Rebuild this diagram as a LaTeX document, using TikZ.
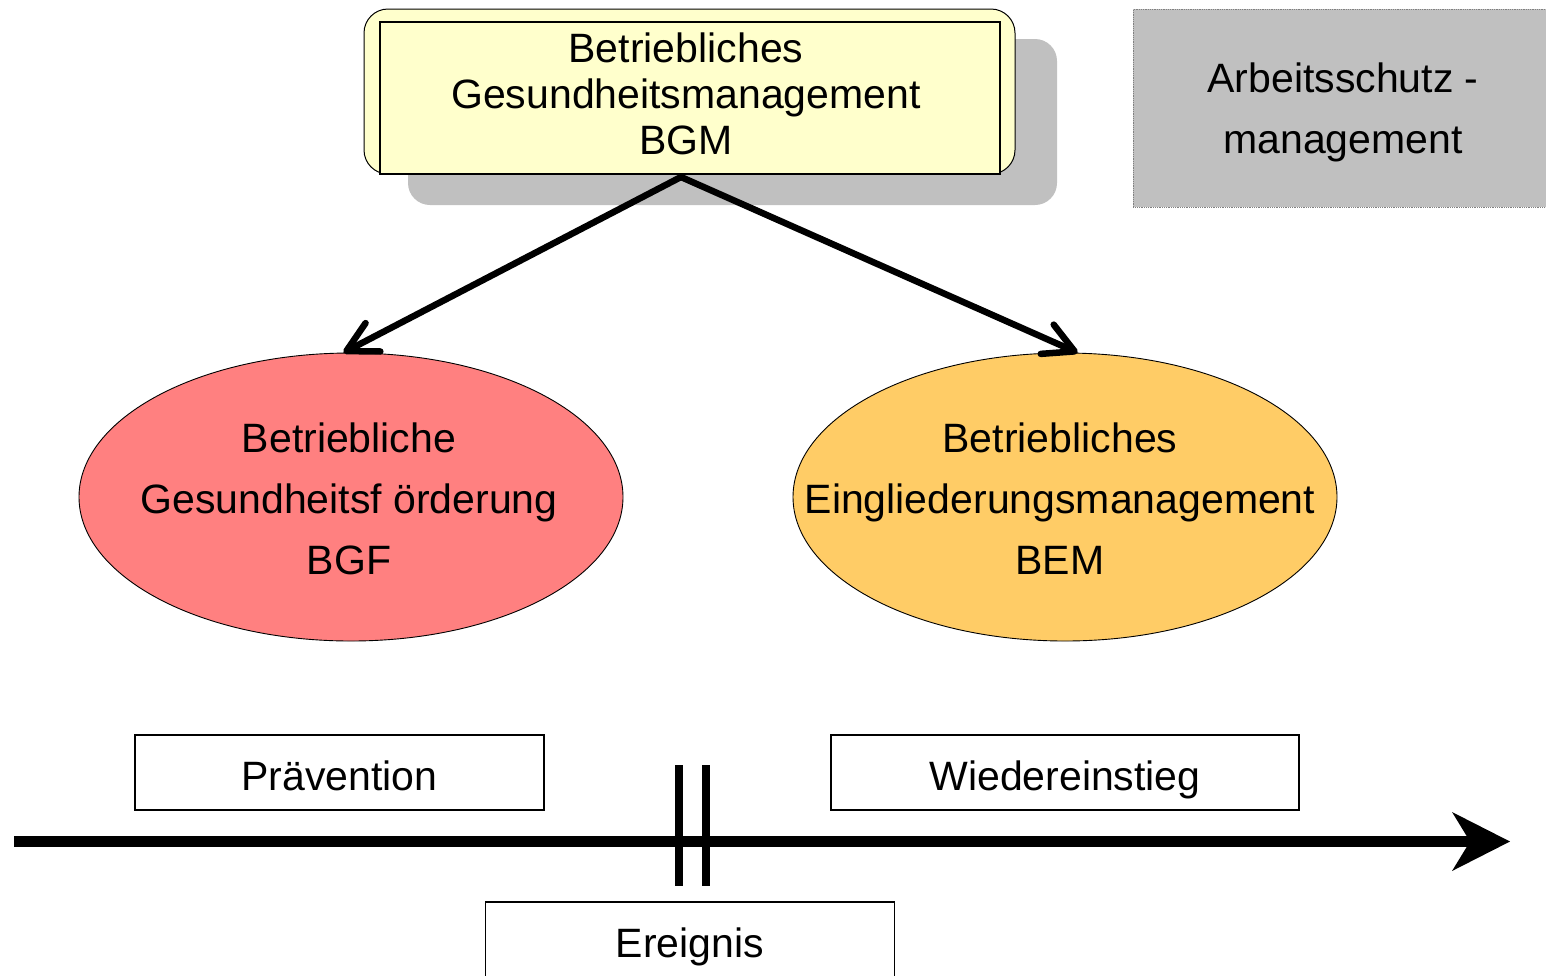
\documentclass[tikz,border=0pt]{standalone}
\usepackage{fontspec}
\setmainfont{Liberation Sans}
\usetikzlibrary{arrows.meta,shapes.geometric}
\definecolor{bgmyellow}{HTML}{FFFFCC}
\definecolor{bgfred}{HTML}{FF8080}
\definecolor{bemorange}{HTML}{FFCC66}
\definecolor{shadowgray}{HTML}{C0C0C0}
\definecolor{dotgray}{HTML}{808080}
\begin{document}
\begin{tikzpicture}[x=1pt,y=-1pt,
  bigtext/.style={font=\fontsize{41}{61}\selectfont, align=center, inner sep=0pt},
  ell/.style={ellipse, draw=black, line width=0.9pt, minimum width=544pt, minimum height=288pt, inner sep=0pt},
  phase/.style={draw=black, line width=1.5pt, minimum width=409pt, minimum height=75pt, inner sep=0pt,
    text height=35pt, text depth=0pt, font=\fontsize{41}{49}\selectfont},
  link/.style={line width=6.5pt, line cap=round, -{Straight Barb[length=30pt,width=32pt,round]}},
  bar/.style={line width=8pt}
]
\useasboundingbox (0,0) rectangle (1546,975);
\fill[white] (0,0) rectangle (1546,975);

% BGM box with shadow
\fill[shadowgray, rounded corners=22pt] (408,39) rectangle (1057,205);
\draw[fill=bgmyellow, line width=1pt, rounded corners=24pt] (364,9) rectangle (1015,174);
\node[draw=black, line width=1.5pt, fill=bgmyellow, minimum width=620pt, minimum height=152pt, inner sep=0pt] (bgm) at (690,98) {};
\node[font=\fontsize{41}{46}\selectfont, align=center, inner sep=0pt] (bgmtext) at (686,94.3)
  {Betriebliches\\Gesundheitsmanagement\\BGM};

% Arbeitsschutzmanagement box
\node[fill=shadowgray, draw=dotgray, densely dotted, line width=0.8pt, minimum width=420pt, minimum height=198pt,
  inner sep=0pt, anchor=north west] (asm) at (1133,9) {};
\node[bigtext] (asmtext) at (1343,112) {Arbeitsschutz -\\management};

% ellipses
\node[ell, fill=bgfred] (bgf) at (351,497) {};
\node[bigtext] (bgftext) at (349,498.7) {Betriebliche\\Gesundheitsf örderung\\BGF};
\node[ell, fill=bemorange] (bem) at (1065,497) {};
\node[bigtext] (bemtext) at (1060,498.7) {Betriebliches\\Eingliederungsmanagement\\BEM};

% arrows
\coordinate (apex) at (681,177);
\draw[link] (apex) -- (bgf.93);
\draw[link] (apex) -- (bem.85);

% timeline
\node[phase] (praev) at (339.5,772.5) {Prävention};
\node[phase, minimum width=468pt] (wieder) at (1065,772.5) {Wiedereinstieg};
\node[phase] (ereig) at (690,939.5) {Ereignis};

\coordinate (tstart) at (14,841.5);
\coordinate (tend) at (1510,841.5);
\draw[line width=11pt, -{Stealth[length=58pt,width=59pt,inset=18pt,line width=0pt]}] (tstart) -- (tend);
\draw[bar] (679,765) -- (679,886);
\draw[bar] (706,765) -- (706,886);
\end{tikzpicture}
\end{document}
